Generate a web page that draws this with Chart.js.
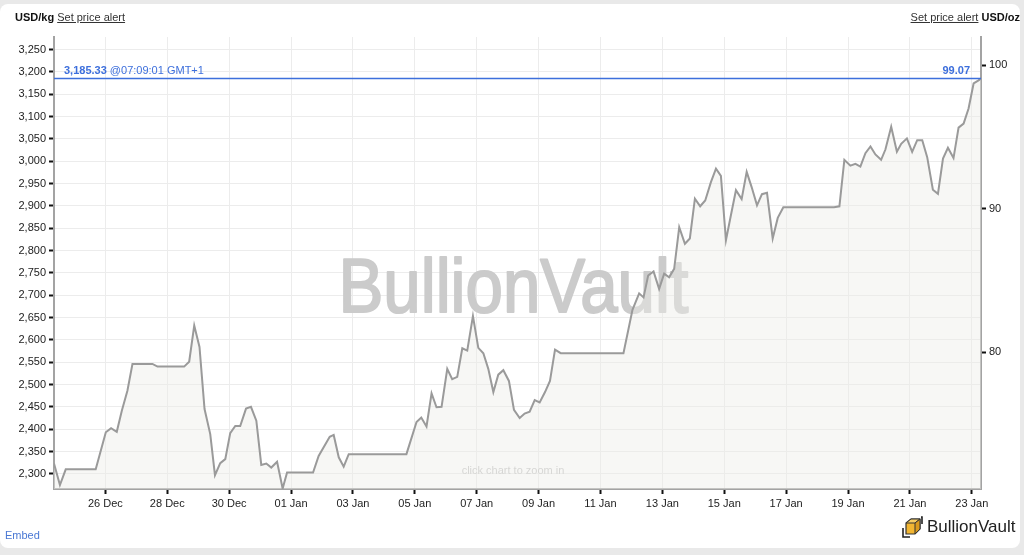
<!DOCTYPE html>
<html>
<head>
<meta charset="utf-8">
<script src="https://cdn.jsdelivr.net/npm/chart.js@4"></script>
<style>
body{margin:0;background:#e9e9e9;font-family:"Liberation Sans",Arial,sans-serif;}
#card{position:absolute;left:0;top:4px;width:1020px;height:544px;background:#fff;border-radius:8px;}
#wrap{position:absolute;left:0;top:0;width:1024px;height:555px;}
.hdr{position:absolute;top:11px;font-size:11px;color:#222;white-space:nowrap;}
.hdr b{color:#111;}
.hdr u{color:#333;}
#embed{position:absolute;left:5px;top:529px;font-size:11px;color:#4a78d4;}
#logo{position:absolute;left:901px;top:515px;height:24px;display:flex;align-items:center;}
#logo span{font-size:17px;color:#222;margin-left:4px;}
</style>
</head>
<body>
<div id="card"></div>
<div id="wrap"><canvas id="myChart" width="1024" height="555"></canvas></div>
<div class="hdr" style="left:15px"><b>USD/kg</b> <u>Set price alert</u></div>
<div class="hdr" style="right:4px"><u>Set price alert</u> <b>USD/oz</b></div>
<div id="embed">Embed</div>
<div id="logo">
<svg width="22" height="22" viewBox="0 0 22 22">
  <polygon points="5,7 10,3 19,3 19,13 14,18 5,18" fill="#f2b632" stroke="#333" stroke-width="1.2"/>
  <polygon points="5,7 10,3 19,3 14,7" fill="#f7cd62" stroke="#333" stroke-width="1"/>
  <polygon points="14,7 19,3 19,13 14,18" fill="#d99a1e" stroke="#333" stroke-width="1"/>
  <path d="M2,12 L2,21 L9,21 M20,1 L21,1 L21,8" fill="none" stroke="#222" stroke-width="1.6"/>
</svg><span>BullionVault</span></div>
<script>
// silver price, USD per kg (times GMT)
var times = [
  '2025-12-24 08:09', '2025-12-24 12:45', '2025-12-24 17:15', '2025-12-25 16:30',
  '2025-12-26 00:20', '2025-12-26 04:25', '2025-12-26 08:50', '2025-12-26 12:45',
  '2025-12-26 17:05', '2025-12-26 21:00', '2025-12-27 12:30', '2025-12-27 16:25',
  '2025-12-28 13:05', '2025-12-28 17:00', '2025-12-28 20:55', '2025-12-29 01:00',
  '2025-12-29 04:55', '2025-12-29 09:20', '2025-12-29 13:00', '2025-12-29 17:05',
  '2025-12-29 21:00', '2025-12-30 00:50', '2025-12-30 04:45', '2025-12-30 08:35',
  '2025-12-30 13:05', '2025-12-30 16:55', '2025-12-30 21:05', '2025-12-31 00:55',
  '2025-12-31 04:50', '2025-12-31 08:40', '2025-12-31 13:10', '2025-12-31 17:30',
  '2025-12-31 20:55', '2026-01-01 17:05', '2026-01-01 21:25', '2026-01-02 06:00',
  '2026-01-02 09:05', '2026-01-02 13:00', '2026-01-02 16:50', '2026-01-02 20:45',
  '2026-01-04 17:30', '2026-01-05 01:20', '2026-01-05 05:00', '2026-01-05 09:05',
  '2026-01-05 13:00', '2026-01-05 16:50', '2026-01-05 20:45', '2026-01-06 01:10',
  '2026-01-06 05:00', '2026-01-06 08:55', '2026-01-06 12:50', '2026-01-06 16:40',
  '2026-01-06 21:05', '2026-01-07 01:15', '2026-01-07 05:10', '2026-01-07 09:00',
  '2026-01-07 12:55', '2026-01-07 16:45', '2026-01-07 20:40', '2026-01-08 01:00',
  '2026-01-08 04:55', '2026-01-08 09:20', '2026-01-08 13:10', '2026-01-08 17:05',
  '2026-01-08 21:00', '2026-01-09 00:50', '2026-01-09 05:00', '2026-01-09 08:50',
  '2026-01-09 12:45', '2026-01-09 17:10', '2026-01-11 17:50', '2026-01-12 00:50',
  '2026-01-12 06:00', '2026-01-12 09:25', '2026-01-12 13:00', '2026-01-12 17:10',
  '2026-01-12 21:30', '2026-01-13 01:25', '2026-01-13 05:15', '2026-01-13 09:10',
  '2026-01-13 13:05', '2026-01-13 17:30', '2026-01-13 21:20', '2026-01-14 01:15',
  '2026-01-14 05:20', '2026-01-14 09:15', '2026-01-14 13:40', '2026-01-14 17:35',
  '2026-01-14 21:25', '2026-01-15 01:20', '2026-01-15 05:10', '2026-01-15 09:05',
  '2026-01-15 13:30', '2026-01-15 17:25', '2026-01-15 21:15', '2026-01-16 01:25',
  '2026-01-16 05:15', '2026-01-16 09:10', '2026-01-16 13:35', '2026-01-16 17:30',
  '2026-01-16 21:50', '2026-01-18 13:10', '2026-01-18 17:20', '2026-01-18 21:10',
  '2026-01-19 01:50', '2026-01-19 05:45', '2026-01-19 09:35', '2026-01-19 13:30',
  '2026-01-19 17:25', '2026-01-19 21:15', '2026-01-20 01:40', '2026-01-20 05:00',
  '2026-01-20 09:30', '2026-01-20 13:55', '2026-01-20 17:15', '2026-01-20 21:40',
  '2026-01-21 01:45', '2026-01-21 05:40', '2026-01-21 09:35', '2026-01-21 13:25',
  '2026-01-21 17:50', '2026-01-21 21:45', '2026-01-22 01:40', '2026-01-22 05:30',
  '2026-01-22 09:50', '2026-01-22 13:45', '2026-01-22 17:40', '2026-01-22 21:30',
  '2026-01-23 01:25', '2026-01-23 05:15', '2026-01-23 07:09'
];
var kgPrices = [
  2323, 2275, 2310, 2310,
  2393, 2402, 2394, 2441,
  2486, 2546, 2546, 2540,
  2540, 2551, 2632, 2584,
  2445, 2389, 2297, 2324,
  2333, 2391, 2407, 2407,
  2446, 2450, 2419, 2320,
  2323, 2314, 2327, 2267,
  2303, 2303, 2340, 2383,
  2387, 2337, 2316, 2344,
  2344, 2416, 2426, 2406,
  2480, 2449, 2450, 2535,
  2512, 2517, 2581, 2576,
  2653, 2582, 2570, 2535,
  2483, 2522, 2532, 2508,
  2443, 2425, 2435, 2439,
  2465, 2460, 2483, 2508,
  2578, 2570, 2570, 2667,
  2704, 2695, 2744, 2753,
  2714, 2748, 2740, 2759,
  2852, 2815, 2827, 2916,
  2899, 2912, 2953, 2983,
  2967, 2823, 2879, 2935,
  2915, 2976, 2942, 2901,
  2926, 2929, 2827, 2873,
  2897, 2897, 2899, 3003,
  2990, 2994, 2988, 3018,
  3033, 3015, 3003, 3026,
  3077, 3021, 3039, 3051,
  3021, 3047, 3047, 3009,
  2936, 2927, 3006, 3030,
  3007, 3075, 3084, 3118,
  3174, 3181, 3185.33
];
var xTickDays = ['2025-12-26', '2025-12-28', '2025-12-30', '2026-01-01', '2026-01-03',
  '2026-01-05', '2026-01-07', '2026-01-09', '2026-01-11', '2026-01-13', '2026-01-15',
  '2026-01-17', '2026-01-19', '2026-01-21', '2026-01-23'];
var kgTicks = [2300, 2350, 2400, 2450, 2500, 2550, 2600, 2650, 2700, 2750,
  2800, 2850, 2900, 2950, 3000, 3050, 3100, 3150, 3200, 3250];
var ozTicks = [80, 90, 100];
var kgMin = 2266, kgMax = 3278;
var lastPrice = 3185.33;
var lastStamp = '@07:09:01 GMT+1';
var OZ_PER_KG = 32.1507466;
var MONTHS = ['Jan','Feb','Mar','Apr','May','Jun','Jul','Aug','Sep','Oct','Nov','Dec'];

function toMs(s) { return Date.parse(s.replace(' ', 'T') + ':00Z'); }
var points = [];
for (var i = 0; i < times.length; i++) {
  points.push({x: toMs(times[i]), y: kgPrices[i]});
}

var FONT = '"Liberation Sans", Arial, sans-serif';
Chart.defaults.font.family = FONT;
Chart.defaults.font.size = 11;
Chart.defaults.color = '#222';

var extras = {
  id: 'extras',
  beforeDatasetsDraw: function(chart) {
    var c = chart.ctx, a = chart.chartArea;
    c.save();
    // watermark
    c.font = '76px ' + FONT;
    var w = c.measureText('BullionVault').width;
    c.translate((a.left + a.right) / 2 - 4, 312);
    c.scale(350 / w, 1);
    c.fillStyle = '#cbcbcb';
    c.strokeStyle = '#cbcbcb';
    c.lineWidth = 2;
    c.lineJoin = 'round';
    c.textAlign = 'center';
    c.textBaseline = 'alphabetic';
    c.strokeText('BullionVault', 0, 0);
    c.fillText('BullionVault', 0, 0);
    c.restore();
    c.save();
    c.font = '11px ' + FONT;
    c.fillStyle = '#c4c4c4';
    c.textAlign = 'center';
    c.textBaseline = 'middle';
    c.fillText('click chart to zoom in', 513, a.bottom - 18);
    c.restore();
  },
  afterDatasetsDraw: function(chart) {
    var c = chart.ctx, a = chart.chartArea;
    var y = chart.scales.y.getPixelForValue(lastPrice);
    c.save();
    c.strokeStyle = '#3d6fdc';
    c.lineWidth = 1.5;
    c.beginPath();
    c.moveTo(a.left, y);
    c.lineTo(a.right, y);
    c.stroke();
    c.fillStyle = '#3d6fdc';
    c.textBaseline = 'alphabetic';
    c.font = 'bold 11px ' + FONT;
    var lbl = lastPrice.toLocaleString('en-US', {minimumFractionDigits: 2});
    c.textAlign = 'left';
    c.fillText(lbl, a.left + 10, y - 4);
    var lw = c.measureText(lbl + ' ').width;
    c.font = '11px ' + FONT;
    c.fillText(lastStamp, a.left + 10 + lw, y - 4);
    c.font = 'bold 11px ' + FONT;
    c.textAlign = 'right';
    c.fillText((lastPrice / OZ_PER_KG).toFixed(2), a.right - 11, y - 4);
    c.restore();
  }
};

var ctx = document.getElementById('myChart');
var myChart = new Chart(ctx, {
  type: 'line',
  data: {
    datasets: [{
      data: points,
      borderColor: '#9a9a9a',
      borderWidth: 2,
      backgroundColor: 'rgba(238,238,232,0.45)',
      fill: 'start',
      pointRadius: 0,
      tension: 0
    }]
  },
  options: {
    responsive: false,
    animation: false,
    events: [],
    layout: {padding: {top: 37, left: 0, right: 0, bottom: 0}},
    plugins: {legend: {display: false}, tooltip: {enabled: false}},
    scales: {
      x: {
        type: 'linear',
        min: points[0].x,
        max: points[points.length - 1].x,
        afterBuildTicks: function(s) {
          s.ticks = xTickDays.map(function(d) { return {value: Date.parse(d + 'T00:00:00Z')}; });
        },
        afterFit: function(s) { s.height = 66; },
        ticks: {
          maxRotation: 0,
          autoSkip: false,
          padding: 3,
          color: '#222',
          callback: function(v) {
            var d = new Date(v);
            var dd = d.getUTCDate();
            return (dd < 10 ? '0' + dd : '' + dd) + ' ' + MONTHS[d.getUTCMonth()];
          }
        },
        grid: {color: '#ececec', lineWidth: 1, tickColor: '#111', tickLength: 5, tickWidth: 2},
        border: {color: '#a3a3a3', width: 2}
      },
      y: {
        position: 'left',
        min: kgMin,
        max: kgMax,
        afterBuildTicks: function(s) {
          s.ticks = kgTicks.map(function(v) { return {value: v}; });
        },
        afterFit: function(s) { s.width = 54; },
        ticks: {
          padding: 3,
          color: '#222',
          callback: function(v) { return v.toLocaleString('en-US'); }
        },
        grid: {color: '#ececec', lineWidth: 1, tickColor: '#111', tickLength: 5, tickWidth: 2},
        border: {color: '#a3a3a3', width: 2}
      },
      y2: {
        position: 'right',
        min: kgMin / OZ_PER_KG,
        max: kgMax / OZ_PER_KG,
        afterBuildTicks: function(s) {
          s.ticks = ozTicks.map(function(v) { return {value: v}; });
        },
        afterFit: function(s) { s.width = 43; },
        ticks: {padding: 3, color: '#222'},
        grid: {drawOnChartArea: false, tickColor: '#111', tickLength: 5, tickWidth: 2},
        border: {color: '#a3a3a3', width: 2}
      }
    }
  },
  plugins: [extras]
});
</script>
</body>
</html>
